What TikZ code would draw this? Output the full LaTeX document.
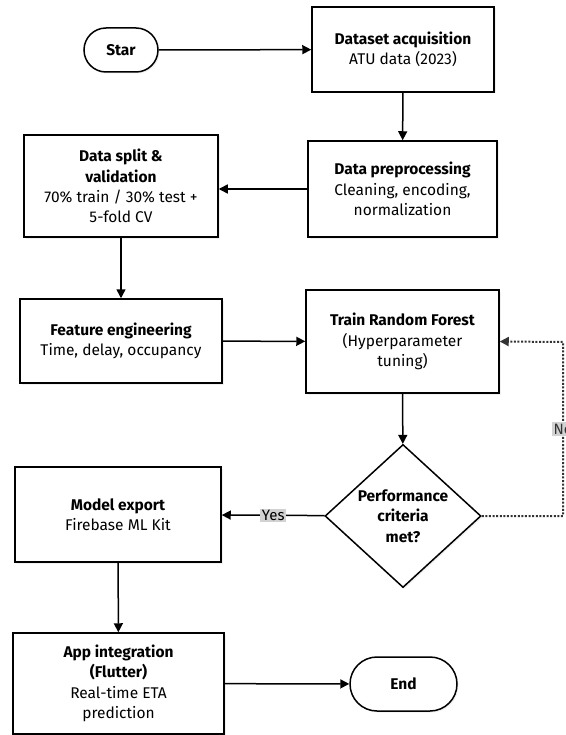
\documentclass[tikz,border=0pt]{standalone}
\usepackage{fontspec}
\setmainfont{Fira Sans}
\usetikzlibrary{arrows.meta,shapes.geometric,shapes.misc,shadows}
\tikzset{
  box/.style={draw, fill=white, line width=1.5pt, align=center, inner sep=0pt,
    font=\fontsize{15.5}{20.3}\selectfont,
    drop shadow={opacity=0.12, shadow xshift=1.5pt, shadow yshift=-1.5pt}},
  term/.style={box, rounded rectangle},
  decide/.style={box, diamond},
  flow/.style={line width=1.5pt, -{Triangle[length=9pt,width=9pt]}},
  noflow/.style={line width=2pt, dash pattern=on 2pt off 1.6pt, black!80, -{Triangle[length=9pt,width=9pt]}},
  tag/.style={fill=gray!35, inner sep=1.5pt, font=\fontsize{15}{16}\selectfont}
}
\begin{document}
\begin{tikzpicture}[x=1pt,y=-1pt]
\useasboundingbox (0,0) rectangle (565,735);
\node[term, minimum width=74pt, minimum height=44pt] (star) at (121,50) {\textbf{Star}};
\node[box, minimum width=182pt, minimum height=85pt] (acq) at (403,49.5) {\textbf{Dataset acquisition}\\ATU data (2023)};
\node[box, minimum width=189pt, minimum height=96pt] (prep) at (402.5,189) {\textbf{Data preprocessing}\\Cleaning, encoding,\\normalization};
\node[box, minimum width=194pt, minimum height=102pt] (split) at (121,186) {\textbf{Data split \&}\\\textbf{validation}\\70\% train / 30\% test +\\5-fold CV};
\node[box, minimum width=202pt, minimum height=84pt] (feat) at (121,341) {\textbf{Feature engineering}\\Time, delay, occupancy};
\node[box, minimum width=193pt, minimum height=103pt] (rf) at (402.5,341.5) {\textbf{Train Random Forest}\\(Hyperparameter\\tuning)};
\node[decide, minimum width=156pt, minimum height=142pt] (crit) at (403,516) {\textbf{Performance}\\\textbf{criteria}\\\textbf{met?}};
\node[box, minimum width=206pt, minimum height=95pt] (export) at (118,514.5) {\textbf{Model export}\\Firebase ML Kit};
\node[box, minimum width=211pt, minimum height=101pt] (app) at (118.5,683.5) {\textbf{App integration}\\\textbf{(Flutter)}\\Real-time ETA\\prediction};
\node[term, minimum width=107pt, minimum height=54pt] (end) at (403.5,684) {\textbf{End}};
\coordinate (nobot) at (563,516);
\coordinate (notop) at (563,342);
\draw[flow] (star) -- (acq);
\draw[flow] (acq) -- (prep);
\draw[flow] (prep.west) -- (prep.west -| split.east);
\draw[flow] (split) -- (feat);
\draw[flow] (feat) -- (rf);
\draw[flow] (rf) -- (crit);
\draw[flow] (crit) -- node[tag] {Yes} (export);
\draw[flow] (export) -- (app);
\draw[flow] (app) -- (end);
\draw[noflow] (crit.east) -- (nobot) -- node[tag] {No} (notop) -- (rf.east);
%\draw[noflow] (nobot) -- (notop);
\end{tikzpicture}
\end{document}
